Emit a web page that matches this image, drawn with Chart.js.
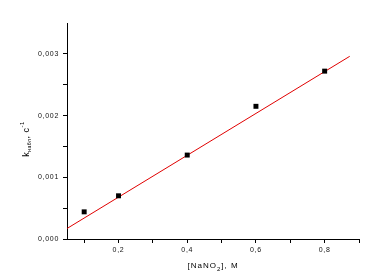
<!DOCTYPE html>
<html>
<head>
<meta charset="utf-8">
<script src="https://cdn.jsdelivr.net/npm/chart.js@4"></script>
<style>
  html, body { margin: 0; padding: 0; background: #fff; }
  #wrap { width: 373px; height: 276px; }
</style>
</head>
<body>
<div id="wrap"><canvas id="kinetics" width="373" height="276"></canvas></div>
<script>
// measured points
const concNaNO2 = [0.1, 0.2, 0.4, 0.6, 0.8];
const kObs = [0.00044, 0.00070, 0.00136, 0.00215, 0.00272];
// linear fit, endpoints
const fitX = [0.05, 0.873];
const fitY = [0.00017, 0.00296];
// axis ticks
const xTickValues = [0.1, 0.2, 0.3, 0.4, 0.5, 0.6, 0.7, 0.8, 0.9];
const xTickLabels = ['', '0,2', '', '0,4', '', '0,6', '', '0,8', ''];
const yTickValues = [0, 0.0005, 0.001, 0.0015, 0.002, 0.0025, 0.003];
const yTickLabels = ['0,000', '', '0,001', '', '0,002', '', '0,003'];

const tickFont = { family: 'Liberation Sans, Arial, sans-serif', size: 7 };

// wider letters for tick labels, like the original
const spacing = {
  id: 'spacing',
  beforeDraw(chart) { chart.ctx.letterSpacing = '0.7px'; }
};

// axis titles with sub/superscripts
const titles = {
  id: 'titles',
  afterDraw(chart) {
    const ctx = chart.ctx;
    const area = chart.chartArea;
    ctx.save();
    ctx.fillStyle = '#000';
    ctx.textBaseline = 'alphabetic';
    ctx.letterSpacing = '1px';
    // x title: [NaNO2], M
    const parts = [
      { t: '[NaNO', s: 8, dy: 0 },
      { t: '2', s: 6, dy: 3 },
      { t: '], M', s: 8, dy: 0 }
    ];
    let w = 0;
    parts.forEach(p => { ctx.font = p.s + 'px Liberation Sans'; w += ctx.measureText(p.t).width; });
    let x = (area.left + area.right) / 2 - w / 2;
    const y = 268;
    parts.forEach(p => {
      ctx.font = p.s + 'px Liberation Sans';
      ctx.fillText(p.t, x, y + p.dy);
      x += ctx.measureText(p.t).width;
    });
    // y title: k_набл, с^-1
    ctx.translate(29, 139);
    ctx.rotate(-Math.PI / 2);
    ctx.letterSpacing = '0.5px';
    const yParts = [
      { t: 'k', s: 9, dy: 0 },
      { t: 'набл', s: 5, dy: 2 },
      { t: ', c', s: 9, dy: 0 },
      { t: '-1', s: 6, dy: -5 }
    ];
    w = 0;
    yParts.forEach(p => { ctx.font = p.s + 'px Liberation Sans'; w += ctx.measureText(p.t).width; });
    x = -w / 2;
    yParts.forEach(p => {
      ctx.font = p.s + 'px Liberation Sans';
      ctx.fillText(p.t, x, p.dy);
      x += ctx.measureText(p.t).width;
    });
    ctx.restore();
  }
};

new Chart(document.getElementById('kinetics'), {
  type: 'scatter',
  data: {
    datasets: [
      {
        label: 'k',
        data: concNaNO2.map((c, i) => ({ x: c, y: kObs[i] })),
        pointStyle: 'rect',
        pointRadius: 3.5,
        backgroundColor: '#000',
        borderWidth: 0
      },
      {
        label: 'fit',
        type: 'line',
        data: fitX.map((c, i) => ({ x: c, y: fitY[i] })),
        borderColor: '#e00000',
        borderWidth: 1,
        pointRadius: 0,
        fill: false
      }
    ]
  },
  options: {
    responsive: false,
    animation: false,
    layout: { padding: { top: 23, right: 14, left: 0, bottom: 0 } },
    plugins: { legend: { display: false }, tooltip: { enabled: false } },
    scales: {
      x: {
        type: 'linear',
        min: 0.05,
        max: 0.9,
        afterBuildTicks: s => { s.ticks = xTickValues.map(v => ({ value: v })); },
        afterFit: s => { s.height = 37; },
        ticks: {
          autoSkip: false,
          maxRotation: 0,
          padding: 3,
          color: '#111',
          font: tickFont,
          callback: (v, i) => xTickLabels[i]
        },
        grid: { drawOnChartArea: false, tickLength: 4, color: '#000', tickColor: '#000' },
        border: { color: '#000', width: 1 }
      },
      y: {
        min: 0,
        max: 0.0035,
        afterBuildTicks: s => { s.ticks = yTickValues.map(v => ({ value: v })); },
        afterFit: s => { s.width = 67; },
        ticks: {
          autoSkip: false,
          padding: 4,
          color: '#111',
          font: tickFont,
          callback: (v, i) => yTickLabels[i]
        },
        grid: { drawOnChartArea: false, tickLength: 4, color: '#000', tickColor: '#000' },
        border: { color: '#000', width: 1 }
      }
    }
  },
  plugins: [spacing, titles]
});
</script>
</body>
</html>
